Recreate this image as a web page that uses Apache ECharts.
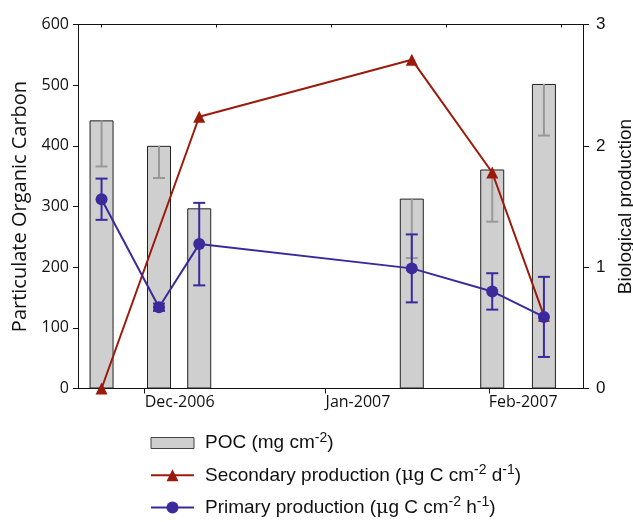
<!DOCTYPE html>
<html>
<head>
<meta charset="utf-8">
<script src="https://cdn.jsdelivr.net/npm/echarts@6/dist/echarts.min.js"></script>
<style>
  html, body { margin: 0; padding: 0; background: #fff; }
  #chart { width: 633px; height: 522px; }
</style>
</head>
<body>
<div id="chart"></div>
<script>
// Sampling day (days from first sampling)
var sampleDays = [0, 10, 17, 54, 68, 77];
// POC (left axis) and its (downward) error
var pocValues = [442, 400, 297, 313, 361, 502];
var pocErrors = [76, 53, 0, 98, 86, 85];
// Secondary production (right axis)
var secDays = [0, 17, 54, 68, 77];
var secValues = [0, 2.24, 2.71, 1.78, 0.6];
// Primary production (right axis) and error
var primValues = [1.56, 0.67, 1.19, 0.99, 0.80, 0.59];
var primErrors = [0.17, 0.03, 0.34, 0.28, 0.15, 0.33];
// Bottom axis month ticks (positions in days) and labels
var monthTickDays = [7.5, 39, 67.4];
var monthTickLabels = ['Dec-2006', 'Jan-2007', 'Feb-2007'];
// Top axis ticks
var topTickDays = [0, 20, 40, 60, 80];

var XMIN = -4.1, XMAX = 83.8;
var RED = '#9b1a0c', BLUE = '#3a2a9c', BARFILL = '#cfcfcf';

function errRender(color, capHalf, lower, upper) {
  return function (params, api) {
    var x = api.value(0), lo = api.value(1), hi = api.value(2);
    var a = api.coord([x, lo]), b = api.coord([x, hi]);
    var st = { stroke: color, lineWidth: 2 };
    var ch = [{ type: 'line', shape: { x1: a[0], y1: a[1], x2: b[0], y2: b[1] }, style: st }];
    if (lower) ch.push({ type: 'line', shape: { x1: a[0] - capHalf, y1: a[1], x2: a[0] + capHalf, y2: a[1] }, style: st });
    if (upper) ch.push({ type: 'line', shape: { x1: b[0] - capHalf, y1: b[1], x2: b[0] + capHalf, y2: b[1] }, style: st });
    return { type: 'group', children: ch };
  };
}

var pocData = sampleDays.map(function (d, i) { return [d, pocValues[i]]; });
var pocErrData = [];
sampleDays.forEach(function (d, i) {
  if (pocErrors[i] > 0) pocErrData.push([d, pocValues[i] - pocErrors[i], pocValues[i]]);
});
var secData = secDays.map(function (d, i) { return [d, secValues[i]]; });
var primData = sampleDays.map(function (d, i) { return [d, primValues[i]]; });
var primErrData = sampleDays.map(function (d, i) { return [d, primValues[i] - primErrors[i], primValues[i] + primErrors[i]]; });

var legendLabels = {
  'POC': 'POC (mg cm{sup|-2})',
  'Secondary': 'Secondary production ({mu|\u03bc}g C cm{sup|-2} d{sup|-1})',
  'Primary': 'Primary production ({mu|\u03bc}g C cm{sup|-2} h{sup|-1})'
};

var axisFont = 'Open Sans';
var lineAx = { show: true, onZero: false, lineStyle: { color: '#111', width: 1 } };
var chart = echarts.init(document.getElementById('chart'));
chart.setOption({
  animation: false,
  grid: { left: 78, right: 50, top: 24.5, bottom: 133.5, containLabel: false, outerBoundsMode: 'none' },
  xAxis: [
    {
      type: 'value', position: 'bottom', min: XMIN, max: XMAX,
      axisLine: lineAx,
      axisTick: { show: true, customValues: monthTickDays, length: 5, lineStyle: { color: '#111' } },
      axisLabel: {
        customValues: monthTickDays, color: '#111', fontSize: 16, fontFamily: axisFont, align: 'left', margin: 6,
        formatter: function (v) {
          var best = 0, bd = 1e9;
          monthTickDays.forEach(function (t, i) { if (Math.abs(t - v) < bd) { bd = Math.abs(t - v); best = i; } });
          return monthTickLabels[best];
        }
      },
      splitLine: { show: false }
    },
    {
      type: 'value', position: 'top', min: XMIN, max: XMAX,
      axisLine: lineAx,
      axisTick: { show: true, inside: true, customValues: topTickDays, length: 3, lineStyle: { color: '#111' } },
      axisLabel: { show: false },
      splitLine: { show: false }
    }
  ],
  yAxis: [
    {
      type: 'value', position: 'left', min: 0, max: 600, interval: 100,
      name: 'Particulate Organic Carbon', nameLocation: 'middle', nameGap: 46, nameRotate: 90,
      nameTextStyle: { fontSize: 20, fontFamily: axisFont, color: '#111' },
      axisLine: lineAx,
      axisTick: { show: true, length: 5, lineStyle: { color: '#111' } },
      axisLabel: { color: '#111', fontSize: 16, fontFamily: axisFont, margin: 9 },
      splitLine: { show: false }
    },
    {
      type: 'value', position: 'right', min: 0, max: 3, interval: 1,
      name: 'Biological production', nameLocation: 'middle', nameGap: 32, nameRotate: 90,
      nameTextStyle: { fontSize: 19, fontFamily: 'Liberation Sans', color: '#111' },
      axisLine: lineAx,
      axisTick: { show: true, length: 6, lineStyle: { color: '#111' } },
      axisLabel: { color: '#111', fontSize: 17, fontFamily: 'Liberation Sans', margin: 13 },
      splitLine: { show: false }
    }
  ],
  legend: {
    orient: 'vertical', left: 150, top: 431, padding: 0, itemWidth: 43, itemHeight: 15, itemGap: 8.3,
    data: [
      { name: 'POC', icon: 'path://M0,0 H43 V11 H0 Z', itemStyle: { color: BARFILL, borderColor: '#444', borderWidth: 1 } },
      { name: 'Secondary' },
      { name: 'Primary' }
    ],
    formatter: function (n) { return legendLabels[n]; },
    textStyle: {
      fontSize: 19, fontFamily: 'Liberation Sans', color: '#111', lineHeight: 24, padding: [0, 0, 0, 6],
      rich: {
        sup: { fontSize: 14, fontFamily: 'Liberation Sans', color: '#111', lineHeight: 12, verticalAlign: 'top' },
        mu: { fontSize: 19, fontFamily: 'DejaVu Serif', color: '#111', lineHeight: 24 }
      }
    }
  },
  series: [
    {
      name: 'POC', type: 'bar', xAxisIndex: 0, yAxisIndex: 0, data: pocData, barWidth: 24,
      itemStyle: { color: BARFILL, borderColor: '#222', borderWidth: 1 }, z: 1
    },
    {
      name: 'pocErr', type: 'custom', xAxisIndex: 0, yAxisIndex: 0, data: pocErrData,
      encode: { x: 0, y: [1, 2] }, renderItem: errRender('#999999', 6, true, false), z: 2
    },
    {
      name: 'Secondary', type: 'line', xAxisIndex: 0, yAxisIndex: 1, data: secData,
      symbol: 'triangle', symbolSize: 12, showAllSymbol: true,
      itemStyle: { color: RED }, lineStyle: { color: RED, width: 2 }, z: 3
    },
    {
      name: 'primErr', type: 'custom', xAxisIndex: 0, yAxisIndex: 1, data: primErrData,
      encode: { x: 0, y: [1, 2] }, renderItem: errRender(BLUE, 6, true, true), z: 4
    },
    {
      name: 'Primary', type: 'line', xAxisIndex: 0, yAxisIndex: 1, data: primData,
      symbol: 'circle', symbolSize: 12, showAllSymbol: true,
      itemStyle: { color: BLUE }, lineStyle: { color: BLUE, width: 2 }, z: 5
    }
  ]
});
</script>
</body>
</html>
